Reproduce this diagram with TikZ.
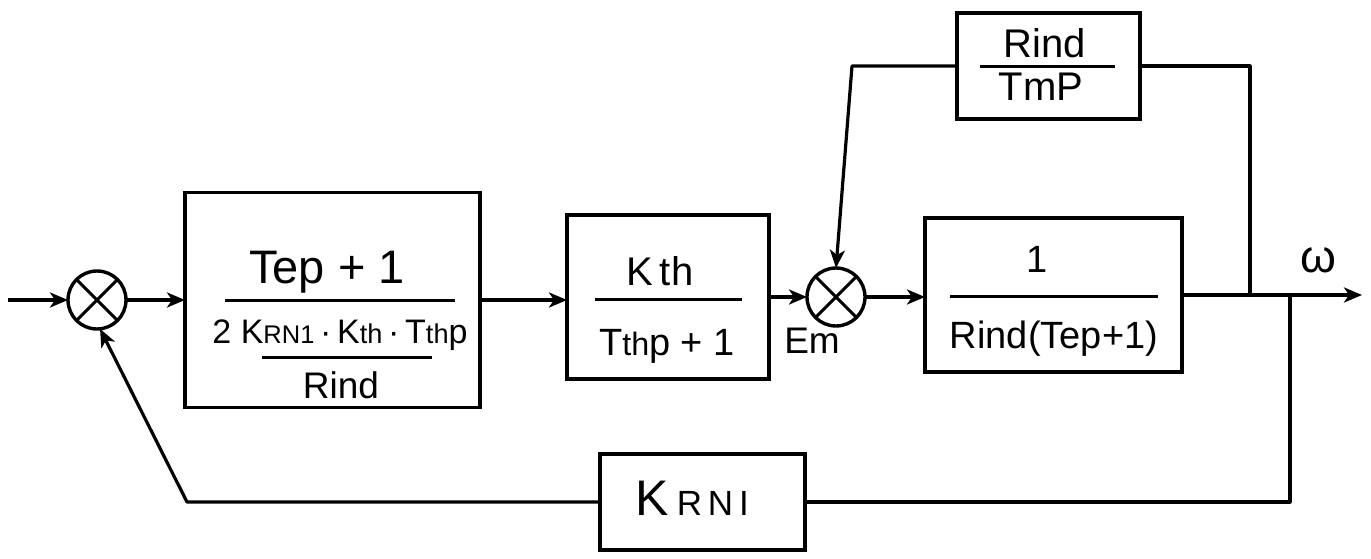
\documentclass[tikz,border=0pt]{standalone}
\usepackage{fontspec}
\setmainfont{Liberation Sans}
\usepackage{graphicx}
\usetikzlibrary{arrows.meta}
\newcommand{\lo}[2][0.72]{\scalebox{#1}{#2}}
\newcommand{\fs}[1]{\fontsize{#1}{#1}\selectfont}
\begin{document}
\begin{tikzpicture}[x=1pt,y=-1pt,
  box/.style={draw, line width=3.8pt, inner sep=0pt, outer sep=0pt},
  sum/.style={circle, draw, line width=3.4pt, minimum size=58pt, inner sep=0pt, outer sep=0pt},
  conn/.style={line width=3.2pt, line join=round},
  arr/.style={conn, -{Stealth[length=18pt,width=15pt,inset=5pt]}},
  bar/.style={line width=3pt},
  txt/.style={anchor=base, inner sep=0pt, outer sep=0pt}]
\useasboundingbox (0,0) rectangle (1371,559);

% summing junctions
\node[sum] (s1) at (97,300) {};
\draw[line width=3pt] (s1.45)--(s1.225) (s1.135)--(s1.-45);
\node[sum] (s2) at (836,297) {};
\draw[line width=3pt] (s2.45)--(s2.225) (s2.135)--(s2.-45);

% blocks
\node[box, minimum width=295pt, minimum height=215pt] (b1) at (332.5,300) {};
\node[box, minimum width=202pt, minimum height=164pt] (b2) at (668,297) {};
\node[box, minimum width=257pt, minimum height=154pt] (b3) at (1053.5,295) {};
\node[box, minimum width=183pt, minimum height=106pt] (b4) at (1048.5,66) {};
\node[box, minimum width=205pt, minimum height=96pt] (b5) at (702.5,502) {};

% block 1 contents
\node[txt] (n1) at (327,283) {\fs{47}Tep + 1};
\draw[bar] (225,300) -- (455,300);
\node[txt] (d1) at (340,343) {\fs{34}2 K\lo[0.75]{RN1}\,·\,K\lo[0.8]{th}\,·\,T\lo[0.8]{th}p};
\draw[bar] (262,357) -- (432,357);
\node[txt] (r1) at (341,398) {\fs{37}Rind};

% block 2 contents
\node[txt] (n2) at (660,285) {\fs{40}K\,th};
\draw[bar] (595,299) -- (742,299);
\node[txt] (d2) at (667,355) {\fs{38}T\lo[0.85]{th}p + 1};

% block 3 contents
\node[txt] (n3) at (1037,272) {\fs{38}1};
\draw[bar] (950,296) -- (1158,296);
\node[txt] (d3) at (1054,348) {\fs{38}Rind(Tep+1)};

% block 4 contents
\node[txt] (n4) at (1045,58) {\fs{40}Rind};
\draw[bar] (980,67) -- (1115,67);
\node[txt] (d4) at (1041,101) {\fs{40}TmP};

% block 5 contents
\node[txt] (k5) at (692,515) {\fs{50}K\,\lo[0.7]{R\,N\,I}};

% labels
\node[txt] (em) at (812,353) {\fs{37}Em};
\node[txt] (om) at (1318,272) {\fs{46}ω};

% coordinates
\coordinate (in) at (8,300);
\coordinate (out) at (1362,295);
\coordinate (j1) at (1250,295);
\coordinate (j2) at (1290,295);
\coordinate (t1) at (852,66);
\coordinate (t2) at (187,502);

% forward path
\draw[arr] (in) -- (s1.west);
\draw[arr] (s1.east) -- (s1.east -| b1.west);
\draw[arr] (b1.east) -- (b1.east -| b2.west);
\draw[arr] (b2.east) -- (s2.west);
\draw[arr] (s2.east) -- (s2.east -| b3.west);
\draw[arr] (b3.east) -- (out);

% inner feedback
\draw[conn] (j1) |- (b4.east);
\draw[arr] (b4.west) -- (t1) -- (s2.north);

% outer feedback
\draw[conn] (j2) |- (b5.east);
\draw[arr] (b5.west) -- (t2) -- (s1.-84);
\end{tikzpicture}
\end{document}
